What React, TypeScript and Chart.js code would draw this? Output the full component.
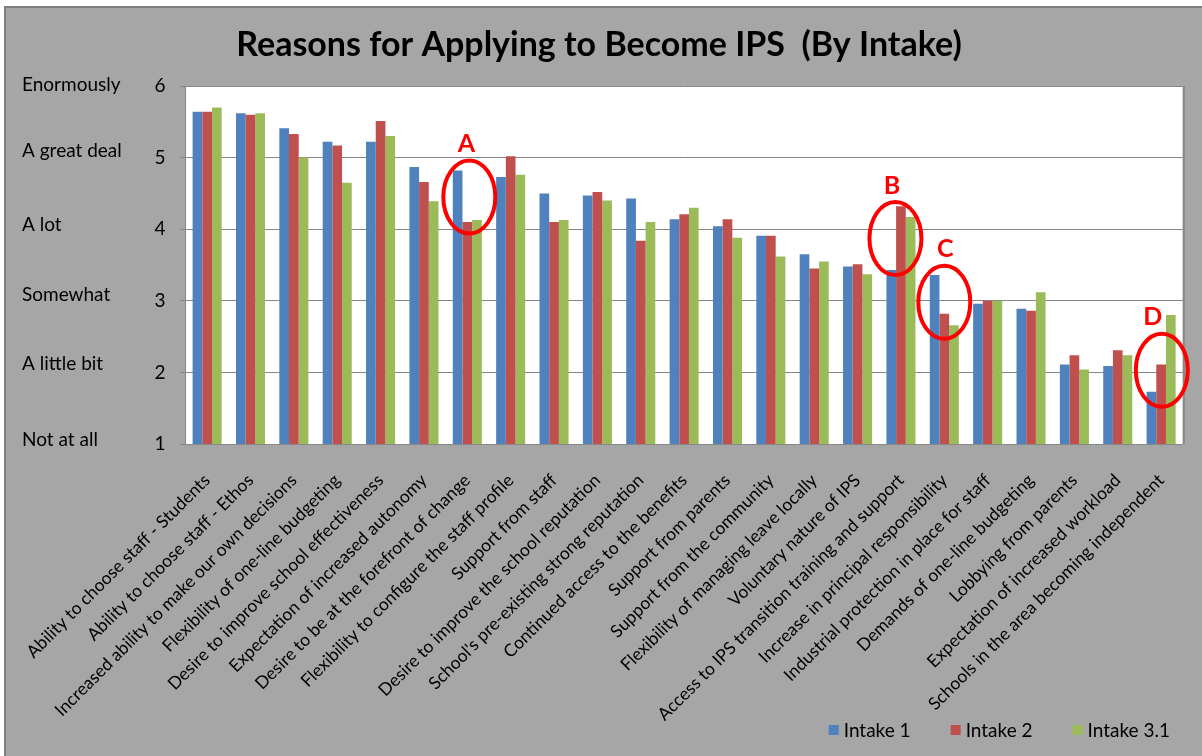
import React, { useEffect, useRef } from 'react';
import { Chart, registerables } from 'chart.js';

Chart.register(...registerables);

const titleText = 'Reasons for Applying to Become IPS  (By Intake)';

const categories = [
  'Ability to choose staff - Students',
  'Ability to choose staff - Ethos',
  'Increased ability to make our own decisions',
  'Flexibility of one-line budgeting',
  'Desire to improve school effectiveness',
  'Expectation of increased autonomy',
  'Desire to be at the forefront of change',
  'Flexibility to configure the staff profile',
  'Support from staff',
  'Desire to improve the school reputation',
  "School's pre-existing strong reputation",
  'Continued access to the benefits',
  'Support from parents',
  'Support from the community',
  'Flexibility of managing leave locally',
  'Voluntary nature of IPS',
  'Access to IPS transition training and support',
  'Increase in principal responsibility',
  'Industrial protection in place for staff',
  'Demands of one-line budgeting',
  'Lobbying from parents',
  'Expectation of increased workload',
  'Schools in the area becoming independent',
];

const seriesNames = ['Intake 1', 'Intake 2', 'Intake 3.1'];

const intake1 = [5.64, 5.62, 5.41, 5.22, 5.22, 4.87, 4.82, 4.73, 4.5, 4.47, 4.43, 4.14, 4.04, 3.91, 3.65, 3.48, 3.43, 3.36, 2.96, 2.89, 2.11, 2.09, 1.73];
const intake2 = [5.64, 5.6, 5.33, 5.17, 5.51, 4.66, 4.1, 5.02, 4.1, 4.52, 3.84, 4.21, 4.14, 3.91, 3.45, 3.51, 4.32, 2.82, 3.0, 2.86, 2.24, 2.31, 2.11];
const intake31 = [5.7, 5.62, 5.0, 4.65, 5.3, 4.39, 4.13, 4.76, 4.13, 4.4, 4.1, 4.3, 3.88, 3.62, 3.55, 3.37, 4.17, 2.66, 3.0, 3.12, 2.04, 2.24, 2.8];

const yTickValues = [1, 2, 3, 4, 5, 6];
const levelLabels = ['Not at all', 'A little bit', 'Somewhat', 'A lot', 'A great deal', 'Enormously'];

const annotationLetters = ['A', 'B', 'C', 'D'];
const annotationCategoryIndex = [6, 16, 17, 22];
const annotationCenterValues = [4.45, 3.87, 2.98, 2.03];

// drawing tweaks (pixels), not data
const levelLabelNudgeY = [-4, -9, -6, -4, -7, -1];
const ellipseNudgeX = [2, -5.5, 0, 0.7];
const letterNudgeX = [-3, -3.5, 1, -9];

const COLORS = ['#4f81bd', '#c0504d', '#9bbb59'];
const FONT = 'Lato';

const framePlugin = {
  id: 'frame',
  beforeDraw(chart: any) {
    const { ctx, width, height, chartArea: a } = chart;
    ctx.save();
    ctx.fillStyle = '#ffffff';
    ctx.fillRect(0, 0, width, height);
    ctx.fillStyle = '#a6a6a6';
    ctx.fillRect(5, 7, width - 5, height - 7);
    ctx.strokeStyle = '#808080';
    ctx.lineWidth = 2;
    ctx.beginPath();
    ctx.moveTo(5, height);
    ctx.lineTo(5, 7);
    ctx.lineTo(width, 7);
    ctx.stroke();
    ctx.fillStyle = '#ffffff';
    ctx.fillRect(a.left, a.top, a.right - a.left, a.bottom - a.top);
    ctx.strokeStyle = '#868686';
    ctx.lineWidth = 2;
    ctx.beginPath();
    ctx.moveTo(a.right + 1, a.top);
    ctx.lineTo(a.right + 1, a.bottom);
    ctx.stroke();
    ctx.restore();
  },
  afterDraw(chart: any) {
    const { ctx } = chart;
    const ys = chart.scales.y;
    ctx.save();
    // verbal scale labels next to the numeric ticks
    ctx.fillStyle = '#000000';
    ctx.font = `19px ${FONT}`;
    ctx.textAlign = 'left';
    ctx.textBaseline = 'middle';
    yTickValues.forEach((v, i) => {
      ctx.fillText(levelLabels[i], 22, ys.getPixelForValue(v) + levelLabelNudgeY[i]);
    });
    // legend (bottom right), built from the datasets
    const sets = chart.data.datasets;
    ctx.font = `19px ${FONT}`;
    const legendRight = 1170;
    const legendY = 730;
    const box = 10;
    const boxGap = 5;
    const itemGap = 40;
    let x = legendRight;
    const items: { x: number; ds: any }[] = [];
    for (let i = sets.length - 1; i >= 0; i--) {
      const w = box + boxGap + ctx.measureText(sets[i].label).width;
      x -= w;
      items.unshift({ x, ds: sets[i] });
      x -= itemGap;
    }
    items.forEach(({ x: ix, ds }) => {
      ctx.fillStyle = ds.backgroundColor;
      ctx.fillRect(ix, legendY - box / 2, box, box);
      ctx.fillStyle = '#000000';
      ctx.fillText(ds.label, ix + box + boxGap, legendY + 1);
    });
    ctx.restore();
  },
};

const annotationPlugin = {
  id: 'circles',
  afterDatasetsDraw(chart: any) {
    const { ctx } = chart;
    const xs = chart.scales.x;
    const ys = chart.scales.y;
    ctx.save();
    annotationLetters.forEach((letter, i) => {
      const cx = xs.getPixelForValue(annotationCategoryIndex[i]) + ellipseNudgeX[i];
      const cy = ys.getPixelForValue(annotationCenterValues[i]);
      ctx.beginPath();
      ctx.ellipse(cx, cy, 26, 36.5, 0, 0, Math.PI * 2);
      ctx.strokeStyle = '#ff0000';
      ctx.lineWidth = 4;
      ctx.stroke();
      ctx.fillStyle = '#ff0000';
      ctx.font = `bold 25px ${FONT}`;
      ctx.textAlign = 'center';
      ctx.textBaseline = 'middle';
      ctx.fillText(letter, cx + letterNudgeX[i], cy - 53);
    });
    ctx.restore();
  },
};

export default function App() {
  const ref = useRef<HTMLCanvasElement | null>(null);

  useEffect(() => {
    document.body.style.margin = '0';
    let chart: Chart | null = null;
    let cancelled = false;
    const make = () => {
      if (cancelled || !ref.current) return;
      chart = new Chart(ref.current, {
        type: 'bar',
        data: {
          labels: categories,
          datasets: [intake1, intake2, intake31].map((d, i) => ({
            label: seriesNames[i],
            data: d,
            backgroundColor: COLORS[i],
            borderColor: COLORS[i],
            borderWidth: 0,
            categoryPercentage: 0.67,
            barPercentage: 1.0,
          })),
        },
        options: {
          responsive: false,
          devicePixelRatio: 1,
          animation: false,
          layout: { padding: { left: 0, right: 4, top: 0, bottom: 0 } },
          font: { family: FONT },
          plugins: {
            tooltip: { enabled: false },
            title: {
              display: true,
              text: titleText,
              color: '#000000',
              font: { family: FONT, size: 34, weight: 'bold', lineHeight: 1.2 },
              padding: { top: 24.6, bottom: 20.6 },
            },
            legend: { display: false },
          },
          scales: {
            x: {
              grid: { display: false, drawTicks: false },
              border: { display: true, color: '#868686', width: 1 },
              ticks: {
                color: '#000000',
                font: { family: FONT, size: 17.5 },
                maxRotation: 45,
                minRotation: 45,
                autoSkip: false,
                padding: 26,
              },
              afterFit(scale: any) {
                scale.height = 312;
              },
            },
            y: {
              min: 1,
              max: 6,
              ticks: {
                stepSize: 1,
                color: '#000000',
                font: { family: FONT, size: 19 },
                padding: 15,
              },
              grid: { color: '#868686', lineWidth: 1, tickLength: 5, drawTicks: true },
              border: { display: true, color: '#868686', width: 1 },
              afterFit(scale: any) {
                scale.width = 183;
              },
            },
          },
        },
        plugins: [framePlugin, annotationPlugin],
      } as any);
    };
    const fonts = (document as any).fonts;
    if (fonts && fonts.load) {
      Promise.all([fonts.load(`15px ${FONT}`), fonts.load(`bold 28px ${FONT}`)]).then(make, make);
    } else {
      make();
    }
    return () => {
      cancelled = true;
      if (chart) chart.destroy();
    };
  }, []);

  return (
    <div style={{ width: 1202, height: 756 }}>
      <canvas ref={ref} width={1202} height={756} style={{ display: 'block', width: 1202, height: 756 }} />
    </div>
  );
}
